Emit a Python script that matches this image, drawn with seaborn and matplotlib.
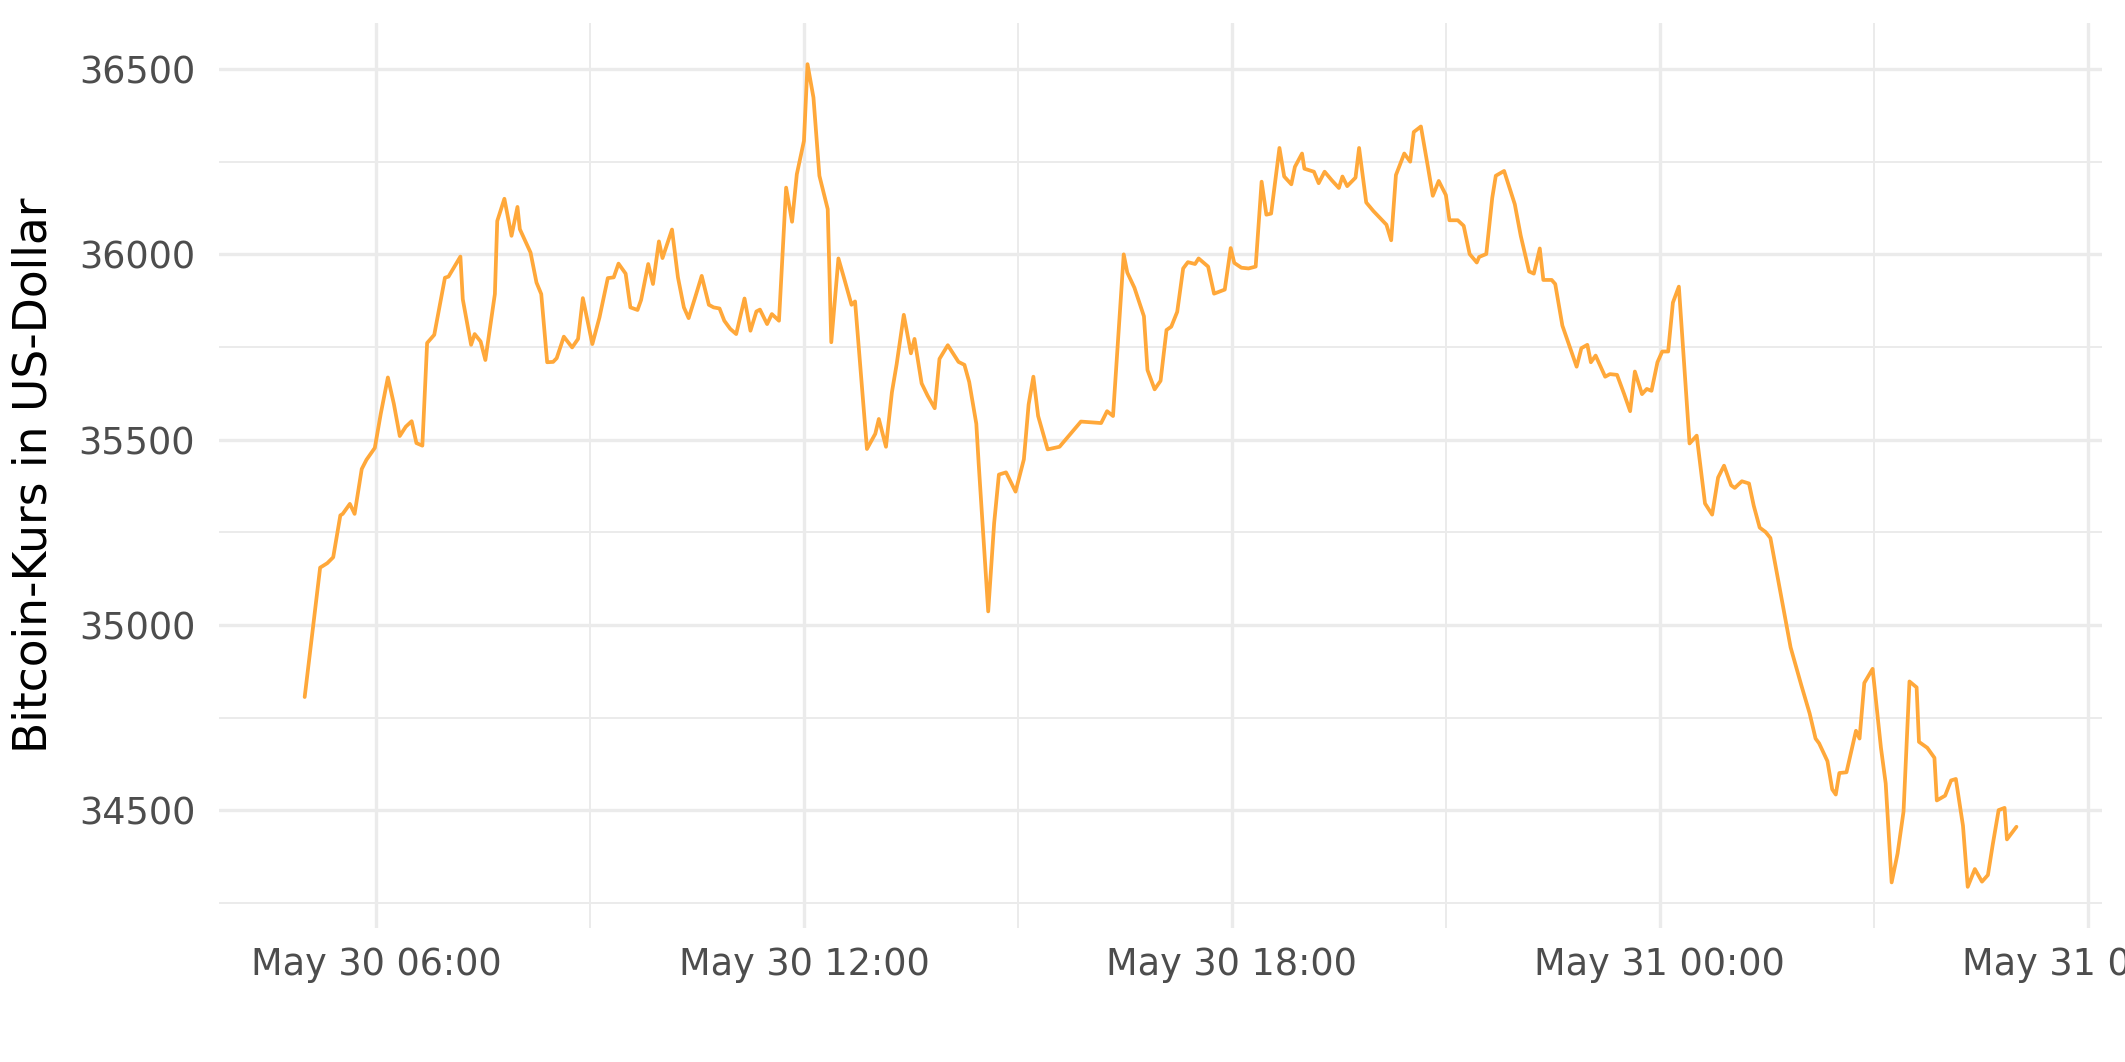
import matplotlib
matplotlib.use('Agg')
import matplotlib.pyplot as plt
import matplotlib.dates as mdates
from matplotlib.ticker import MultipleLocator
import pandas as pd
import seaborn as sns

# minutes after 2021-05-30 05:00 and the price read at each kink of the line
minutes = [0, 13, 19, 24, 30, 32, 38, 42, 48, 52, 59, 64, 70, 75, 80, 85, 90, 94, 99, 103,
           109, 118, 121, 131, 133, 140, 143, 148, 152, 160, 162, 168, 174, 179, 181, 190, 195, 199, 204, 209,
           212, 218, 225, 230, 234, 242,
           248, 255, 260, 264, 270, 274, 280, 283, 289, 293, 298, 301, 309, 314, 319, 323, 328, 334, 340, 344,
           349, 353, 358, 363, 370, 375, 380, 383, 389, 393, 399, 405, 410, 414, 420, 423, 428, 433, 440, 443,
           449, 454, 460, 463, 473, 480, 483, 489, 494, 498, 504, 510, 513, 519, 524, 530, 534, 541, 550, 555,
           559, 565,
           567, 575, 580, 584, 590, 598, 605, 609, 613, 617, 625, 635, 644, 653, 670, 675, 680, 689, 692, 698,
           706, 709, 715, 720, 725, 729, 734, 739, 743, 749, 752, 760, 765, 774, 779, 782, 788, 794, 800, 805,
           809, 813, 820, 824, 830, 833, 839, 841, 849, 853, 858, 864, 870, 873, 877, 884, 887,
           893, 899, 910, 914, 918, 925, 930, 933, 939, 945, 949, 954, 960, 963, 970, 975, 980, 986, 988, 994,
           999, 1002, 1009, 1018, 1023, 1030, 1034, 1039, 1042, 1049, 1052, 1058, 1070, 1074, 1079, 1082, 1086,
           1094, 1098, 1104, 1110, 1115, 1119, 1125, 1129, 1133, 1138, 1142, 1147, 1151, 1156, 1165, 1171,
           1178, 1184, 1189, 1194, 1200, 1203, 1209, 1215, 1219, 1224, 1229, 1233, 1250, 1259, 1266, 1271, 1274,
           1281, 1285, 1288, 1291, 1297, 1305, 1308, 1312, 1319, 1326, 1330, 1335, 1340, 1345, 1350, 1356, 1358,
           1365, 1371, 1373, 1380, 1385, 1389, 1395, 1399, 1405, 1411, 1416, 1420, 1425, 1430, 1432, 1440]

prices = [34806, 35155, 35167, 35183, 35296, 35300, 35327, 35300, 35421, 35446, 35478, 35570, 35668, 35597,
          35510, 35535, 35550, 35491, 35484, 35761, 35783, 35937, 35940, 35994, 35879, 35756, 35785, 35765,
          35715, 35893, 36090, 36150, 36050, 36128, 36068, 36005, 35924, 35893, 35709, 35710, 35720, 35778,
          35749, 35772, 35882, 35758,
          35830, 35936, 35938, 35975, 35948, 35857, 35850, 35877, 35974, 35920, 36035, 35990, 36067, 35938,
          35857, 35828, 35879, 35942, 35864, 35857, 35854, 35821, 35799, 35785, 35881, 35794, 35846, 35851,
          35812, 35839, 35821, 36180, 36088, 36216, 36306, 36513, 36423, 36212, 36122, 35763, 35989, 35933,
          35864, 35873, 35475, 35516, 35556, 35481, 35628, 35704, 35837, 35733, 35772, 35652, 35619, 35585,
          35718, 35755, 35710, 35702, 35656, 35543,
          35435, 35037, 35275, 35406, 35412, 35360, 35447, 35595, 35670, 35564, 35474, 35481, 35515, 35549,
          35545, 35577, 35564, 36000, 35951, 35910, 35833, 35688, 35636, 35659, 35796, 35805, 35845, 35962,
          35979, 35974, 35989, 35967, 35894, 35905, 36017, 35977, 35964, 35962, 35967, 36196, 36107, 36110,
          36287, 36210, 36189, 36236, 36272, 36231, 36223, 36192, 36223, 36200, 36179, 36210, 36184, 36207,
          36287,
          36140, 36117, 36080, 36038, 36214, 36272, 36250, 36330, 36345, 36234, 36158, 36198, 36160, 36092,
          36092, 36077, 36001, 35978, 35993, 36001, 36152, 36212, 36225, 36135, 36050, 35954, 35948, 36016,
          35931, 35931, 35920, 35808, 35697, 35747, 35756, 35709, 35727, 35670, 35677, 35675, 35623, 35577,
          35684, 35623, 35637, 35632, 35709, 35738, 35738, 35870, 35913, 35490, 35511,
          35328, 35298, 35398, 35430, 35377, 35370, 35388, 35382, 35322, 35263, 35251, 35235, 34940, 34838,
          34762, 34694, 34681, 34633, 34557, 34543, 34601, 34603, 34715, 34694, 34844, 34882, 34669, 34573,
          34306, 34384, 34497, 34848, 34832, 34685, 34669, 34642, 34527, 34540, 34581, 34585, 34459, 34294,
          34342, 34308, 34326, 34407, 34501, 34507, 34422, 34456]

start_time = '2021-05-30 05:00'
y_label = 'Bitcoin-Kurs in US-Dollar'

df = pd.DataFrame({
    'time': pd.Timestamp(start_time) + pd.to_timedelta(minutes, unit='m'),
    'price': prices,
})

sns.set_theme(style='white')
plt.rcParams['font.family'] = ['DejaVu Sans']

fig = plt.figure(figsize=(10.625, 5.31), dpi=200)
ax = fig.add_axes([0.1031, 0.1262, 0.8861, 0.8521])

sns.lineplot(data=df, x='time', y='price', ax=ax, color='#FFA83A', linewidth=1.35)

# ggplot-style 5% expansion around the data
t_span = df['time'].max() - df['time'].min()
ax.set_xlim(df['time'].min() - 0.05 * t_span, df['time'].max() + 0.05 * t_span)
p_span = df['price'].max() - df['price'].min()
ax.set_ylim(df['price'].min() - 0.05 * p_span, df['price'].max() + 0.05 * p_span)

ax.xaxis.set_major_locator(mdates.HourLocator(byhour=[0, 6, 12, 18]))
ax.xaxis.set_minor_locator(mdates.HourLocator(byhour=[3, 9, 15, 21]))
ax.xaxis.set_major_formatter(mdates.DateFormatter('%b %d %H:%M'))
ax.yaxis.set_major_locator(MultipleLocator(500))
ax.yaxis.set_minor_locator(MultipleLocator(250))

ax.grid(which='major', color='#EBEBEB', linewidth=1.2)
ax.grid(which='minor', color='#EBEBEB', linewidth=0.7)
ax.set_axisbelow(True)
for s in ax.spines.values():
    s.set_visible(False)

ax.tick_params(axis='both', which='both', length=0, labelsize=13.2, labelcolor='#4D4D4D')
ax.tick_params(axis='y', pad=8.6)
ax.tick_params(axis='x', pad=6.5)

ax.set_xlabel('')
ax.set_ylabel(y_label, fontsize=16.4, color='black', labelpad=8)

fig.savefig('out.png', dpi=200, facecolor='white')
